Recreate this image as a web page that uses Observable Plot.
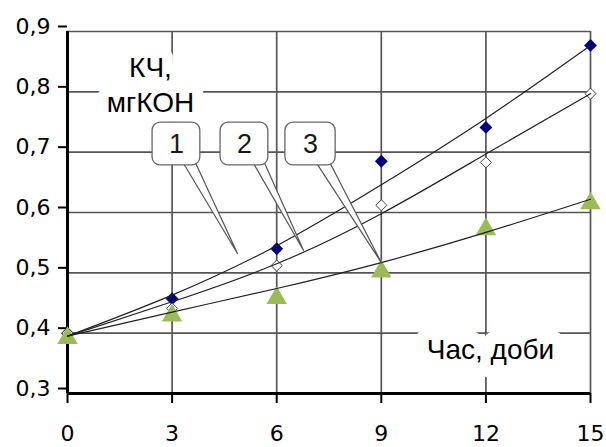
<!DOCTYPE html>
<html>
<head>
<meta charset="utf-8">
<script src="https://cdn.jsdelivr.net/npm/d3@7"></script>
<script src="https://cdn.jsdelivr.net/npm/@observablehq/plot@0.6"></script>
<style>
  html, body { margin: 0; padding: 0; background: #fff; }
</style>
</head>
<body>
<div id="chart"></div>
<script>
// ---- data ----
const xValues = [0, 3, 6, 9, 12, 15];
const series1 = [0.400, 0.457, 0.540, 0.685, 0.741, 0.877];
const series2 = [0.400, 0.441, 0.512, 0.612, 0.683, 0.797];
const series3 = [0.392, 0.429, 0.458, 0.502, 0.572, 0.615];
const trend1 = [0.395, 0.463, 0.545, 0.646, 0.756, 0.877];
const trend2 = [0.395, 0.452, 0.515, 0.598, 0.697, 0.797];
const trend3 = [0.395, 0.435, 0.474, 0.517, 0.567, 0.622];
const xTicks = [0, 3, 6, 9, 12, 15];
const yTicks = [0.3, 0.4, 0.5, 0.6, 0.7, 0.8, 0.9];
const yAxisLabel = "КЧ,\nмгКОН";
const xAxisLabel = "Час, доби";
const calloutLabels = ["1", "2", "3"];

// annotation placement (data units)
const calloutBoxes = [
  {x1: 2.44, x2: 3.81, y1: 0.678, y2: 0.749},
  {x1: 4.39, x2: 5.76, y1: 0.678, y2: 0.749},
  {x1: 6.25, x2: 7.69, y1: 0.678, y2: 0.749}
];
const calloutPointers = [
  {b1: 3.24, b2: 3.61, by: 0.69, tx: 4.875, ty: 0.532},
  {b1: 5.25, b2: 5.59, by: 0.69, tx: 6.77, ty: 0.537},
  {b1: 7.05, b2: 7.46, by: 0.69, tx: 9.0, ty: 0.517}
];

const pts = (ys) => xValues.map((x, i) => ({x, y: ys[i]}));
const boxes = calloutBoxes.map((b, i) => ({...b, label: calloutLabels[i], cx: (b.x1 + b.x2) / 2, cy: (b.y1 + b.y2) / 2}));
const pointerPts = calloutPointers.flatMap((p, i) => [
  {id: i, x: p.b1, y: p.by},
  {id: i, x: p.tx, y: p.ty},
  {id: i, x: p.b2, y: p.by}
]);

const fmt = d => d.toFixed(1).replace(".", ",");

const chart = Plot.plot({
  width: 606,
  height: 447,
  marginLeft: 67,
  marginRight: 16,
  marginTop: 31,
  marginBottom: 54,
  style: {fontFamily: "DejaVu Sans, sans-serif", background: "#fff", color: "#000"},
  x: {domain: [0, 15]},
  y: {domain: [0.3, 0.9]},
  marks: [
    Plot.gridX(xTicks, {stroke: "#555", strokeOpacity: 1, strokeWidth: 1.7}),
    Plot.gridY(yTicks, {stroke: "#555", strokeOpacity: 1, strokeWidth: 1.7}),
    // axis titles with white background halo
    Plot.text([yAxisLabel], {x: 2.38, y: 0.7658, text: d => d, fontSize: 28, fontFamily: "Liberation Sans, Arial, sans-serif",
      lineAnchor: "bottom", lineHeight: 1.25, fill: "#000", stroke: "white", strokeWidth: 22}),
    Plot.text([xAxisLabel], {x: 12.13, y: 0.358, text: d => d, fontSize: 28, fontFamily: "Liberation Sans, Arial, sans-serif",
      lineAnchor: "bottom", fill: "#000", stroke: "white", strokeWidth: 26}),
    Plot.ruleX([0], {stroke: "#000", strokeWidth: 3}),
    Plot.ruleY([0.3], {stroke: "#000", strokeWidth: 3}),
    Plot.axisX(xTicks, {tickSize: 10, tickPadding: 22, fontSize: 22, strokeWidth: 2, tickFormat: d => String(d), label: null}),
    Plot.axisY(yTicks, {tickSize: 9, tickPadding: 8, fontSize: 22, strokeWidth: 2, dy: -5, tickFormat: fmt, label: null}),
    // markers
    Plot.dot(pts(series1), {x: "x", y: "y", symbol: "diamond2", r: 5.8, fill: "#00007f", stroke: "none"}),
    Plot.dot(pts(series2), {x: "x", y: "y", symbol: "diamond2", r: 5, fill: "white", stroke: "#444", strokeWidth: 1}),
    Plot.dot(pts(series3), {x: "x", y: "y", symbol: "triangle", r: 7.6, fill: "#9bbb59", stroke: "none"}),
    // trend lines
    Plot.line(pts(trend1), {x: "x", y: "y", curve: "natural", stroke: "#222", strokeWidth: 1.2}),
    Plot.line(pts(trend2), {x: "x", y: "y", curve: "natural", stroke: "#222", strokeWidth: 1.2}),
    Plot.line(pts(trend3), {x: "x", y: "y", curve: "natural", stroke: "#222", strokeWidth: 1.2}),
    // callouts
    Plot.line(pointerPts, {x: "x", y: "y", z: "id", fill: "white", stroke: "#555", strokeWidth: 1.2, curve: "linear"}),
    Plot.rect(boxes, {x1: "x1", x2: "x2", y1: "y1", y2: "y2", fill: "white", stroke: "#666", strokeWidth: 1.3, rx: 8}),
    Plot.text(boxes, {x: "cx", y: "cy", text: "label", fontSize: 27, fontFamily: "Liberation Sans, Arial, sans-serif", fill: "#1a1a1a"})
  ]
});
document.getElementById("chart").appendChild(chart);
</script>
</body>
</html>
